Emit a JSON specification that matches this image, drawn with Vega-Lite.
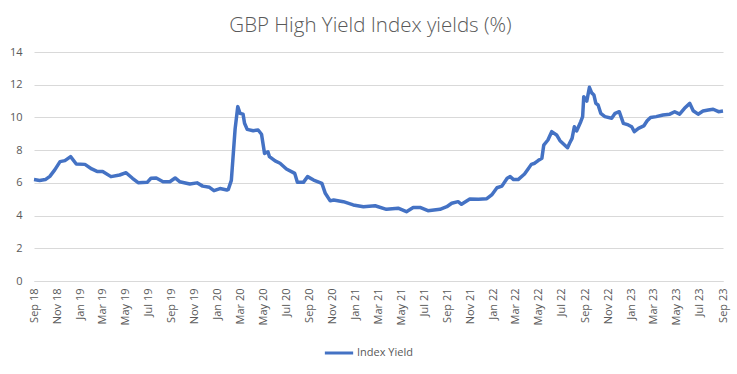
{
  "$schema": "https://vega.github.io/schema/vega-lite/v6.json",
  "width": 689,
  "height": 229,
  "autosize": {"type": "none"},
  "padding": {"left": 34, "top": 52, "right": 14, "bottom": 93},
  "background": "white",
  "title": {"text": "GBP High Yield Index yields (%)", "font": "Open Sans", "fontSize": 20.5, "fontWeight": 300, "color": "#595959", "offset": 10, "dx": -8},
  "config": {
    "view": {"stroke": null},
    "font": "Open Sans"
  },
  "data": {"values": [
    {"date": "2018-09-01", "y": 6.2}, {"date": "2018-09-16", "y": 6.15}, {"date": "2018-10-01", "y": 6.2},
    {"date": "2018-10-13", "y": 6.4}, {"date": "2018-10-26", "y": 6.79}, {"date": "2018-11-09", "y": 7.3},
    {"date": "2018-11-22", "y": 7.36}, {"date": "2018-12-07", "y": 7.6}, {"date": "2018-12-22", "y": 7.15},
    {"date": "2019-01-14", "y": 7.13}, {"date": "2019-02-01", "y": 6.85}, {"date": "2019-02-15", "y": 6.7},
    {"date": "2019-03-02", "y": 6.7}, {"date": "2019-03-24", "y": 6.38}, {"date": "2019-04-16", "y": 6.48},
    {"date": "2019-05-03", "y": 6.62}, {"date": "2019-05-20", "y": 6.28}, {"date": "2019-06-04", "y": 6.01},
    {"date": "2019-06-28", "y": 6.03}, {"date": "2019-07-08", "y": 6.28}, {"date": "2019-07-22", "y": 6.3},
    {"date": "2019-08-09", "y": 6.07}, {"date": "2019-08-27", "y": 6.07}, {"date": "2019-09-10", "y": 6.3},
    {"date": "2019-09-22", "y": 6.07}, {"date": "2019-10-19", "y": 5.93}, {"date": "2019-11-07", "y": 6.0},
    {"date": "2019-11-22", "y": 5.8}, {"date": "2019-12-10", "y": 5.73}, {"date": "2019-12-22", "y": 5.52},
    {"date": "2020-01-07", "y": 5.65}, {"date": "2020-01-25", "y": 5.56}, {"date": "2020-01-29", "y": 5.6},
    {"date": "2020-02-06", "y": 6.15}, {"date": "2020-02-09", "y": 7.1}, {"date": "2020-02-16", "y": 9.3},
    {"date": "2020-02-23", "y": 10.66}, {"date": "2020-02-29", "y": 10.25}, {"date": "2020-03-08", "y": 10.2},
    {"date": "2020-03-12", "y": 9.64}, {"date": "2020-03-19", "y": 9.27}, {"date": "2020-04-04", "y": 9.19},
    {"date": "2020-04-17", "y": 9.23}, {"date": "2020-04-26", "y": 8.97}, {"date": "2020-05-04", "y": 7.8},
    {"date": "2020-05-13", "y": 7.9}, {"date": "2020-05-17", "y": 7.6}, {"date": "2020-06-01", "y": 7.34},
    {"date": "2020-06-14", "y": 7.2}, {"date": "2020-07-01", "y": 6.85}, {"date": "2020-07-23", "y": 6.58},
    {"date": "2020-07-30", "y": 6.03}, {"date": "2020-08-15", "y": 6.03}, {"date": "2020-08-26", "y": 6.38},
    {"date": "2020-09-11", "y": 6.17}, {"date": "2020-10-03", "y": 5.97}, {"date": "2020-10-12", "y": 5.36},
    {"date": "2020-10-25", "y": 4.9}, {"date": "2020-11-03", "y": 4.95}, {"date": "2020-11-29", "y": 4.85},
    {"date": "2020-12-25", "y": 4.65}, {"date": "2021-01-21", "y": 4.54}, {"date": "2021-02-21", "y": 4.6},
    {"date": "2021-03-23", "y": 4.38}, {"date": "2021-04-23", "y": 4.45}, {"date": "2021-05-15", "y": 4.24},
    {"date": "2021-06-02", "y": 4.5}, {"date": "2021-06-20", "y": 4.5}, {"date": "2021-07-11", "y": 4.3},
    {"date": "2021-08-12", "y": 4.38}, {"date": "2021-08-30", "y": 4.54}, {"date": "2021-09-12", "y": 4.75},
    {"date": "2021-09-29", "y": 4.85}, {"date": "2021-10-08", "y": 4.69}, {"date": "2021-10-30", "y": 5.01},
    {"date": "2021-11-22", "y": 5.0}, {"date": "2021-12-14", "y": 5.03}, {"date": "2021-12-27", "y": 5.26},
    {"date": "2022-01-10", "y": 5.7}, {"date": "2022-01-23", "y": 5.8}, {"date": "2022-02-06", "y": 6.28},
    {"date": "2022-02-14", "y": 6.38}, {"date": "2022-02-23", "y": 6.2}, {"date": "2022-03-07", "y": 6.2},
    {"date": "2022-03-24", "y": 6.54}, {"date": "2022-04-02", "y": 6.83}, {"date": "2022-04-11", "y": 7.13},
    {"date": "2022-04-20", "y": 7.2}, {"date": "2022-04-29", "y": 7.36}, {"date": "2022-05-09", "y": 7.5},
    {"date": "2022-05-14", "y": 8.31}, {"date": "2022-05-25", "y": 8.62}, {"date": "2022-06-04", "y": 9.13},
    {"date": "2022-06-17", "y": 8.93}, {"date": "2022-06-26", "y": 8.58}, {"date": "2022-07-16", "y": 8.15},
    {"date": "2022-07-22", "y": 8.45}, {"date": "2022-07-28", "y": 8.72}, {"date": "2022-08-03", "y": 9.43},
    {"date": "2022-08-09", "y": 9.17}, {"date": "2022-08-20", "y": 9.74}, {"date": "2022-08-25", "y": 10.05},
    {"date": "2022-08-28", "y": 11.27}, {"date": "2022-09-05", "y": 11.0}, {"date": "2022-09-12", "y": 11.84},
    {"date": "2022-09-18", "y": 11.5}, {"date": "2022-09-24", "y": 11.37}, {"date": "2022-09-29", "y": 10.86},
    {"date": "2022-10-05", "y": 10.76}, {"date": "2022-10-12", "y": 10.25}, {"date": "2022-10-23", "y": 10.05},
    {"date": "2022-11-10", "y": 9.95}, {"date": "2022-11-19", "y": 10.25}, {"date": "2022-11-30", "y": 10.35},
    {"date": "2022-12-11", "y": 9.64}, {"date": "2022-12-24", "y": 9.54}, {"date": "2023-01-02", "y": 9.43},
    {"date": "2023-01-09", "y": 9.13}, {"date": "2023-01-20", "y": 9.33}, {"date": "2023-02-03", "y": 9.48},
    {"date": "2023-02-12", "y": 9.8}, {"date": "2023-02-21", "y": 10.0}, {"date": "2023-03-08", "y": 10.05},
    {"date": "2023-03-26", "y": 10.15}, {"date": "2023-04-13", "y": 10.2}, {"date": "2023-04-26", "y": 10.35},
    {"date": "2023-05-09", "y": 10.2}, {"date": "2023-05-22", "y": 10.56}, {"date": "2023-06-05", "y": 10.86},
    {"date": "2023-06-14", "y": 10.41}, {"date": "2023-06-27", "y": 10.2}, {"date": "2023-07-10", "y": 10.39},
    {"date": "2023-07-24", "y": 10.45}, {"date": "2023-08-06", "y": 10.5}, {"date": "2023-08-20", "y": 10.35},
    {"date": "2023-09-01", "y": 10.39}
  ]},
  "mark": {"type": "line", "strokeWidth": 3.5, "strokeJoin": "round"},
  "encoding": {
    "x": {
      "field": "date", "type": "temporal",
      "scale": {"type": "utc", "domain": ["2018-09-01", "2023-09-01"]},
      "axis": {
        "title": null, "format": "%b %y", "tickCount": {"interval": "month", "step": 2},
        "labelAngle": -90, "labelFontSize": 11, "labelColor": "#595959", "labelFont": "Open Sans",
        "labelPadding": 7, "ticks": false, "grid": false, "domainColor": "#D9D9D9", "labelOverlap": false,
        "labelFlush": false
      }
    },
    "y": {
      "field": "y", "type": "quantitative",
      "scale": {"domain": [0, 14]},
      "axis": {
        "title": null, "values": [0, 2, 4, 6, 8, 10, 12, 14], "labelFontSize": 11, "labelColor": "#595959",
        "labelFont": "Open Sans", "ticks": false, "domain": false, "gridColor": "#D9D9D9", "labelPadding": 12
      }
    },
    "color": {
      "datum": "Index Yield", "type": "nominal",
      "scale": {"range": ["#4472C4"]},
      "legend": {
        "title": null, "orient": "none", "legendX": 289, "legendY": 285, "direction": "horizontal",
        "symbolType": "stroke", "symbolStrokeWidth": 3, "symbolSize": 800, "labelFontSize": 11,
        "labelColor": "#595959", "labelFont": "Open Sans", "labelOffset": 2
      }
    }
  }
}
